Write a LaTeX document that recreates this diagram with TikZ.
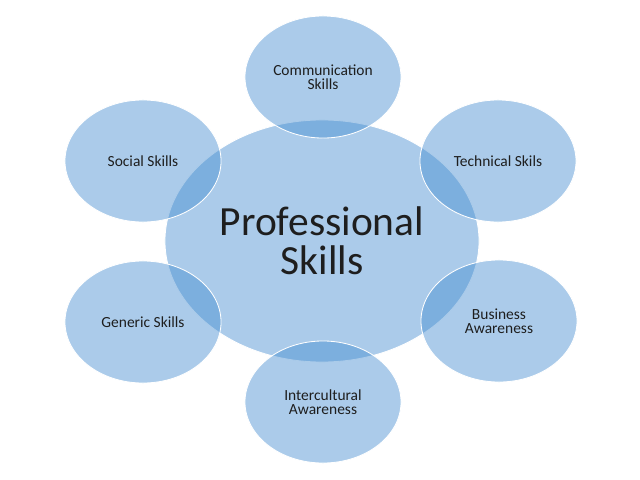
\documentclass[tikz,border=0pt]{standalone}
\usepackage{fontspec}
\setmainfont{Carlito}
\usetikzlibrary{shapes.geometric}
\definecolor{skillblue}{RGB}{68,140,208}
\definecolor{skilltext}{RGB}{30,30,30}

\begin{document}
\begin{tikzpicture}[
    x=0.025cm,
    y=-0.025cm,
    skill/.style={ellipse, fill=skillblue, fill opacity=0.45, draw=white, draw opacity=1,
        line width=0.6pt, text opacity=1, text=skilltext, inner sep=0pt,
        minimum width=3.9cm, minimum height=3.05cm, align=center,
        font=\fontsize{11}{10}\selectfont},
    core/.style={skill, minimum width=7.85cm, minimum height=6.05cm,
        font=\fontsize{29.5}{27.5}\selectfont}
]

\useasboundingbox (0,0) rectangle (640,480);

% Centre
\node[core] (prof) at (322, 241) {Professional\\Skills};

% Skills around it
\node[skill] (comm) at (323, 77) {Communication\\Skills};
\node[skill] (social) at (143, 161) {Social Skills};
\node[skill] (tech) at (498, 161) {Technical Skils};
\node[skill] (generic) at (143, 322) {Generic Skills};
\node[skill] (business) at (499, 321) {Business\\Awareness};
\node[skill] (inter) at (323, 402) {Intercultural\\Awareness};

\end{tikzpicture}
\end{document}
